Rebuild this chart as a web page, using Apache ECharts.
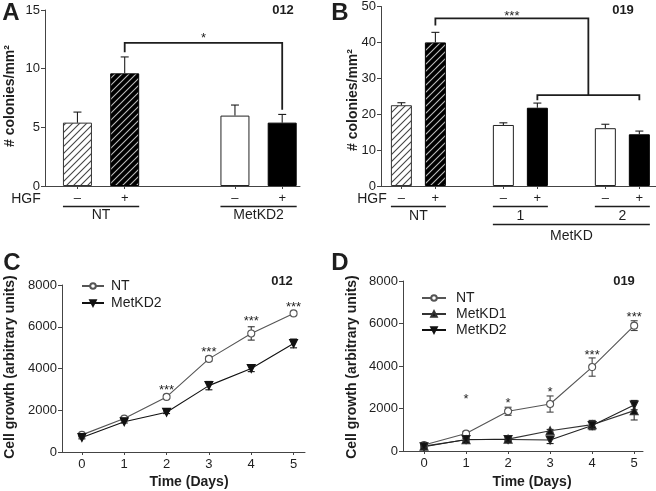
<!DOCTYPE html>
<html><head><meta charset="utf-8">
<script src="https://cdn.jsdelivr.net/npm/echarts@6/dist/echarts.min.js"></script>
<style>html,body{margin:0;padding:0;background:#fff}#c{width:656px;height:491px}</style>
</head><body><div id="c"></div>
<script>
// ---------- DATA ----------
// Panel A (012, colony formation)
const aGroups = ['NT', 'MetKD2'];
const aHGF = ['–', '+', '–', '+'];
const aMean = [5.4, 9.6, 6.0, 5.4];
const aErr = [0.9, 1.4, 0.9, 0.7];
// Panel B (019, colony formation)
const bGroups = ['NT', '1', '2'];
const bSuperGroup = 'MetKD';
const bHGF = ['–', '+', '–', '+', '–', '+'];
const bMean = [22.5, 40.0, 17.0, 21.8, 16.1, 14.4];
const bErr = [0.7, 2.8, 0.6, 1.3, 1.1, 0.9];
// Panel C (012, growth)
const days = [0, 1, 2, 3, 4, 5];
const cNT = [820, 1600, 2640, 4460, 5680, 6640];
const cNTErr = [60, 60, 80, 100, 320, 80];
const cKD2 = [690, 1450, 1900, 3180, 4000, 5200];
const cKD2Err = [60, 60, 60, 200, 150, 210];
const cSig = ['', '', '***', '***', '***', '***'];
const cSigY = [null, null, 3110, 4930, 6420, 7090];
// Panel D (019, growth)
const dNT = [280, 820, 1870, 2210, 3950, 5900];
const dNTErr = [60, 100, 190, 380, 430, 230];
const dKD1 = [230, 530, 560, 955, 1240, 1900];
const dKD1Err = [40, 60, 60, 60, 200, 440];
const dKD2 = [200, 540, 540, 520, 1200, 2160];
const dKD2Err = [40, 60, 60, 170, 200, 220];
const dSig = ['', '*', '*', '*', '***', '***'];
const dSigY = [null, 2590, 2400, 2920, 4660, 6450];
// Significance brackets (data units)
const aBracket = {top: 12.2, leftEnd: 11.4, rightEnd: 6.5, star: '*'};
const bBracket = {top: 46.7, leftEnd: 44.7, join: 25.3, ends: 23.9, star: '***'};

// ---------- LAYOUT / STYLE ----------
const FF = '"Liberation Sans", Arial, sans-serif';
const INK = '#1e1e1e';
const AX = {color: '#444', width: 1};
const aSlot = [0, 3, 10, 13];
const bSlot = [0, 1, 3, 4, 6, 7];

function hatch(bg, fg) {
  const s = 7;
  const c = document.createElement('canvas'); c.width = s; c.height = s;
  const g = c.getContext('2d');
  g.fillStyle = bg; g.fillRect(0, 0, s, s);
  g.strokeStyle = fg; g.lineWidth = 1.1;
  g.beginPath();
  g.moveTo(-1, s + 1); g.lineTo(s + 1, -1);
  g.moveTo(-1, 1); g.lineTo(1, -1);
  g.moveTo(s - 1, s + 1); g.lineTo(s + 1, s - 1);
  g.stroke();
  return {image: c, repeat: 'repeat'};
}
const hW = hatch('#ffffff', '#444');
const hB = hatch('#000000', '#bdbdbd');
const barStyles = [
  {color: hW, borderColor: '#333', borderWidth: 1},
  {color: hB, borderColor: '#000', borderWidth: 1},
  {color: '#fff', borderColor: '#222', borderWidth: 1},
  {color: '#000', borderColor: '#000', borderWidth: 1}
];
const aStyle = [0, 1, 2, 3].map(i => barStyles[i]);
const bStyle = [0, 1, 2, 3, 2, 3].map(i => barStyles[i]);

function yAx(grid, max, interval) {
  return {type: 'value', gridIndex: grid, min: 0, max, interval,
    axisLine: {show: true, onZero: false, lineStyle: AX},
    axisTick: {show: true, length: 4, lineStyle: AX},
    axisLabel: {color: INK, fontSize: 13, fontFamily: FF, margin: 5, formatter: v => String(v)},
    splitLine: {show: false}};
}
function xBarAx(grid, min, max, slots, labels) {
  return {type: 'value', gridIndex: grid, min, max,
    axisLine: {show: true, onZero: false, lineStyle: AX},
    axisTick: {show: true, length: 3, lineStyle: AX, customValues: slots},
    axisLabel: {show: true, customValues: slots, color: INK, fontSize: 13, fontFamily: FF, margin: 6,
      formatter: v => labels[slots.indexOf(v)] || ''},
    splitLine: {show: false}};
}
function xDayAx(grid, min, max) {
  return {type: 'value', gridIndex: grid, min, max,
    axisLine: {show: true, onZero: false, lineStyle: AX},
    axisTick: {show: true, length: 3, lineStyle: AX, customValues: days},
    axisLabel: {show: true, customValues: days, color: INK, fontSize: 13, fontFamily: FF, margin: 6,
      formatter: v => String(v)},
    splitLine: {show: false}};
}
function errSeries(ax, data, both, cap, color) {
  return {type: 'custom', xAxisIndex: ax, yAxisIndex: ax, z: 3, clip: false,
    encode: {x: 0, y: 1},
    data: data,
    renderItem: function (params, api) {
      const x = api.value(0), m = api.value(1), e = api.value(2);
      const t = api.coord([x, m + e]);
      const b = api.coord([x, both ? m - e : m]);
      const st = {stroke: color, lineWidth: 1.1};
      const ch = [
        {type: 'line', shape: {x1: t[0], y1: t[1], x2: b[0], y2: b[1]}, style: st},
        {type: 'line', shape: {x1: t[0] - cap, y1: t[1], x2: t[0] + cap, y2: t[1]}, style: st}
      ];
      if (both) ch.push({type: 'line', shape: {x1: b[0] - cap, y1: b[1], x2: b[0] + cap, y2: b[1]}, style: st});
      return {type: 'group', children: ch};
    }};
}
function sigSeries(ax, labels, ys) {
  return {type: 'custom', xAxisIndex: ax, yAxisIndex: ax, z: 5, clip: false,
    encode: {x: 0, y: 1},
    data: days.map((d, i) => [d, ys[i] == null ? 0 : ys[i]]),
    renderItem: function (params, api) {
      const s = labels[params.dataIndex];
      if (!s) return null;
      const p = api.coord([api.value(0), api.value(1)]);
      return {type: 'text', x: p[0], y: p[1] + 3,
        style: {text: s, font: '13px ' + FF, fill: INK, align: 'center', verticalAlign: 'middle',
          textAlign: 'center', textVerticalAlign: 'middle'}};
    }};
}
function lineSeries(ax, name, vals, sym, rot, color, fill, size) {
  return {type: 'line', name, xAxisIndex: ax, yAxisIndex: ax, z: 4,
    data: days.map((d, i) => [d, vals[i]]),
    symbol: sym, symbolRotate: rot, symbolSize: size, showSymbol: true,
    lineStyle: {color: color, width: 1.1},
    itemStyle: {color: fill, borderColor: color, borderWidth: 1.1},
    emphasis: {disabled: true}};
}

const chart = echarts.init(document.getElementById('c'), null, {renderer: 'canvas'});
const legendText = {fontSize: 14, color: INK, fontFamily: FF};
const option = {
  animation: false,
  backgroundColor: '#fff',
  textStyle: {fontFamily: FF},
  grid: [
    {left: 45, top: 10, width: 255, height: 176},
    {left: 381, top: 6, width: 275, height: 180},
    {left: 62, top: 285, width: 243, height: 167},
    {left: 403, top: 281, width: 240, height: 170}
  ],
  xAxis: [
    xBarAx(0, -2.06, 14.13, aSlot, aHGF),
    xBarAx(1, -0.6, 7.49, bSlot, bHGF),
    xDayAx(2, -0.47, 5.27),
    xDayAx(3, -0.5, 5.21)
  ],
  yAxis: [yAx(0, 15, 5), yAx(1, 50, 10), yAx(2, 8000, 2000), yAx(3, 8000, 2000)],
  legend: [
    {data: ['NT', 'MetKD2'], left: 81, top: 279, padding: 0, orient: 'vertical', itemWidth: 22, itemHeight: 7, itemGap: 3,
      selectedMode: false, textStyle: Object.assign({padding: [0, 0, 0, 2]}, legendText)},
    {data: ['NT', 'MetKD1', 'MetKD2'], left: 421, top: 291, padding: 0, orient: 'vertical', itemWidth: 24, itemHeight: 7, itemGap: 2,
      selectedMode: false, textStyle: Object.assign({padding: [0, 0, 0, 5]}, legendText)}
  ],
  series: [
    {type: 'bar', xAxisIndex: 0, yAxisIndex: 0, barWidth: 29, z: 2,
      data: aMean.map((v, i) => ({value: [aSlot[i], v], itemStyle: aStyle[i]}))},
    errSeries(0, aMean.map((v, i) => [aSlot[i], v, aErr[i]]), false, 4, INK),
    {type: 'bar', xAxisIndex: 1, yAxisIndex: 1, barWidth: 21, z: 2,
      data: bMean.map((v, i) => ({value: [bSlot[i], v], itemStyle: bStyle[i]}))},
    errSeries(1, bMean.map((v, i) => [bSlot[i], v, bErr[i]]), false, 4, INK),
    errSeries(2, days.map((d, i) => [d, cNT[i], cNTErr[i]]), true, 3.5, '#333'),
    errSeries(2, days.map((d, i) => [d, cKD2[i], cKD2Err[i]]), true, 3.5, '#111'),
    lineSeries(2, 'NT', cNT, 'circle', 0, '#555', '#fff', 7),
    lineSeries(2, 'MetKD2', cKD2, 'triangle', 180, '#111', '#111', 8),
    sigSeries(2, cSig, cSigY),
    errSeries(3, days.map((d, i) => [d, dNT[i], dNTErr[i]]), true, 3.5, '#444'),
    errSeries(3, days.map((d, i) => [d, dKD1[i], dKD1Err[i]]), true, 3.5, '#333'),
    errSeries(3, days.map((d, i) => [d, dKD2[i], dKD2Err[i]]), true, 3.5, '#222'),
    lineSeries(3, 'NT', dNT, 'circle', 0, '#555', '#fff', 7),
    lineSeries(3, 'MetKD1', dKD1, 'triangle', 0, '#333', '#111', 8),
    lineSeries(3, 'MetKD2', dKD2, 'triangle', 180, '#222', '#111', 8),
    sigSeries(3, dSig, dSigY)
  ]
};
chart.setOption(option);

// ---------- ANNOTATIONS ----------
const P = (g, x, y) => chart.convertToPixel({gridIndex: g}, [x, y]);
const G = [];
function txt(x, y, s, font, extra) {
  G.push(Object.assign({type: 'text', x, y, silent: true,
    style: {text: s, font: font, fill: INK, align: 'center', verticalAlign: 'middle',
      textAlign: 'center', textVerticalAlign: 'middle'}}, extra || {}));
}
function ln(x1, y1, x2, y2, w) {
  G.push({type: 'line', silent: true, shape: {x1, y1, x2, y2}, style: {stroke: INK, lineWidth: w}});
}
function poly(pts, w) {
  G.push({type: 'polyline', silent: true, shape: {points: pts}, style: {stroke: INK, lineWidth: w, fill: null}});
}
const BOLD14 = 'bold 14px ' + FF, N13 = '13px ' + FF, N14 = '14px ' + FF;

// panel letters & IDs
txt(11, 13, 'A', 'bold 24px ' + FF);
txt(340, 13, 'B', 'bold 24px ' + FF);
txt(12, 263, 'C', 'bold 24px ' + FF);
txt(340, 263, 'D', 'bold 24px ' + FF);
txt(283, 10, '012', 'bold 13px ' + FF);
txt(623, 10, '019', 'bold 13px ' + FF);
txt(282, 281, '012', 'bold 13px ' + FF);
txt(624, 281, '019', 'bold 13px ' + FF);

// axis titles
txt(10, 96, '# colonies/mm²', BOLD14, {rotation: Math.PI / 2});
txt(353, 100, '# colonies/mm²', BOLD14, {rotation: Math.PI / 2});
txt(10, 367, 'Cell growth (arbitrary units)', BOLD14, {rotation: Math.PI / 2});
txt(352, 367, 'Cell growth (arbitrary units)', BOLD14, {rotation: Math.PI / 2});
txt(189, 482, 'Time (Days)', BOLD14);
txt(532, 482, 'Time (Days)', BOLD14);

// HGF group labels, panel A
(function () {
  const hw = 29 / 2, y0 = P(0, 0, 0)[1];
  txt(26, y0 + 13, 'HGF', N14);
  for (let g = 0; g < aGroups.length; g++) {
    const l = P(0, aSlot[2 * g], 0)[0] - hw, r = P(0, aSlot[2 * g + 1], 0)[0] + hw;
    ln(l, y0 + 20.5, r, y0 + 20.5, 1.3);
    txt((l + r) / 2, y0 + 29, aGroups[g], N14);
  }
  // bracket
  const L = P(0, aSlot[1], aBracket.top), R = P(0, aSlot[3], aBracket.top);
  const le = P(0, aSlot[1], aBracket.leftEnd)[1], re = P(0, aSlot[3], aBracket.rightEnd)[1];
  poly([[L[0], le], [L[0], L[1]], [R[0], R[1]], [R[0], re]], 1.8);
  txt((L[0] + R[0]) / 2, L[1] - 4, aBracket.star, N13);
})();

// HGF group labels, panel B
(function () {
  const hw = 21 / 2, y0 = P(1, 0, 0)[1];
  txt(372, y0 + 13, 'HGF', N14);
  for (let g = 0; g < bGroups.length; g++) {
    const l = P(1, bSlot[2 * g], 0)[0] - hw, r = P(1, bSlot[2 * g + 1], 0)[0] + hw;
    ln(l, y0 + 20.5, r, y0 + 20.5, 1.3);
    txt((l + r) / 2, y0 + 30, bGroups[g], N14);
  }
  const l2 = P(1, bSlot[2], 0)[0] - hw, r2 = P(1, bSlot[5], 0)[0] + hw;
  ln(l2, y0 + 38.5, r2, y0 + 38.5, 1.3);
  txt((l2 + r2) / 2, y0 + 50, bSuperGroup, N14);
  // brackets
  const midX = (bSlot[3] + bSlot[5]) / 2;
  const L = P(1, bSlot[1], bBracket.top), R = P(1, midX, bBracket.top);
  const le = P(1, bSlot[1], bBracket.leftEnd)[1], j = P(1, midX, bBracket.join)[1];
  poly([[L[0], le], [L[0], L[1]], [R[0], R[1]], [R[0], j]], 1.8);
  const a = P(1, bSlot[3], bBracket.join)[0], b = P(1, bSlot[5], bBracket.join)[0];
  const e = P(1, 0, bBracket.ends)[1];
  poly([[a, e], [a, j], [b, j], [b, e]], 1.8);
  txt((L[0] + R[0]) / 2, L[1] - 2, bBracket.star, N13);
})();

chart.setOption({graphic: G});
</script></body></html>
